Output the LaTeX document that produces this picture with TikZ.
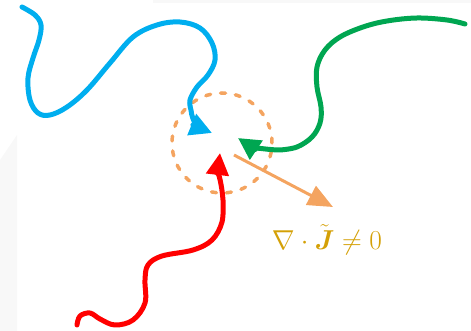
\documentclass[tikz,border=0pt]{standalone}
\usepackage{amsmath}
\usepackage{graphicx}
\usetikzlibrary{arrows.meta}
\definecolor{cblue}{RGB}{0,174,239}
\definecolor{cgreen}{RGB}{0,166,81}
\definecolor{cred}{RGB}{255,0,0}
\definecolor{corange}{RGB}{244,164,96}
\definecolor{cgold}{RGB}{212,160,6}
\definecolor{cshade}{RGB}{248,248,248}
\begin{document}
\begin{tikzpicture}[x=1pt,y=-1pt,
  flow/.style={line width=5pt,line cap=round,line join=round,-{Triangle[length=22pt,width=22pt]}},
  region/.style={circle,draw=corange,line width=3.5pt,dash pattern=on 5pt off 10pt,line cap=round,minimum size=100pt,inner sep=0pt},
  outflow/.style={draw=corange,line width=3pt,-{Triangle[length=25pt,width=21pt]}},
  lbl/.style={text=cgold,font=\fontsize{24.88}{30}\selectfont,inner sep=0pt}]
\useasboundingbox (0,0) rectangle (471,331);
% faint background shading
\fill[cshade] (153,0) rectangle (471,3);
\fill[cshade] (0,160) -- (17,135) -- (17,331) -- (0,331) -- cycle;
% named ends
\coordinate (blueStart) at (22,7);
\coordinate (blueTip) at (212,133);
\coordinate (greenStart) at (465,24);
\coordinate (greenTip) at (238,138);
\coordinate (redStart) at (77,325);
\coordinate (redTip) at (220,153);
\node[region] (reg) at (222,143) {};
\coordinate (outStart) at (234,155);
\coordinate (outTip) at (333,207);
\node[lbl] (div) at (327,240) {\scalebox{1.1}{$\nabla\cdot\tilde{\boldsymbol{J}}\neq 0$}};
% blue current
\draw[flow,draw=cblue] plot[smooth,tension=0.6] coordinates {(blueStart) (35,15) (41,25) (39,40) (33,58) (28,78) (30,100) (38,113) (50,115) (67,107) (87,90) (110,63) (133,37) (157,25) (180,22) (200,28) (212,43) (215,60) (208,75) (197,87) (190,100) (191,110)}
  .. controls (192,122) and (200,128) .. (blueTip);
% green current
\draw[flow,draw=cgreen] plot[smooth,tension=0.6] coordinates {(greenStart) (447,20) (417,18) (387,21) (363,27) (340,37) (325,50) (317,67) (317,87) (321,107) (320,123) (312,137) (297,147) (280,150)}
  .. controls (266,150) and (250,146) .. (greenTip);
% red current
\draw[flow,draw=cred] plot[smooth,tension=0.6] coordinates {(redStart) (80,316) (90,313) (100,319) (115,325) (133,320) (145,303) (145,280) (148,265) (162,256) (193,250) (212,240) (222,222) (223,200)}
  .. controls (222,185) and (218,170) .. (redTip);
% outward flux
\draw[outflow] (outStart) -- (outTip);
\end{tikzpicture}
\end{document}
